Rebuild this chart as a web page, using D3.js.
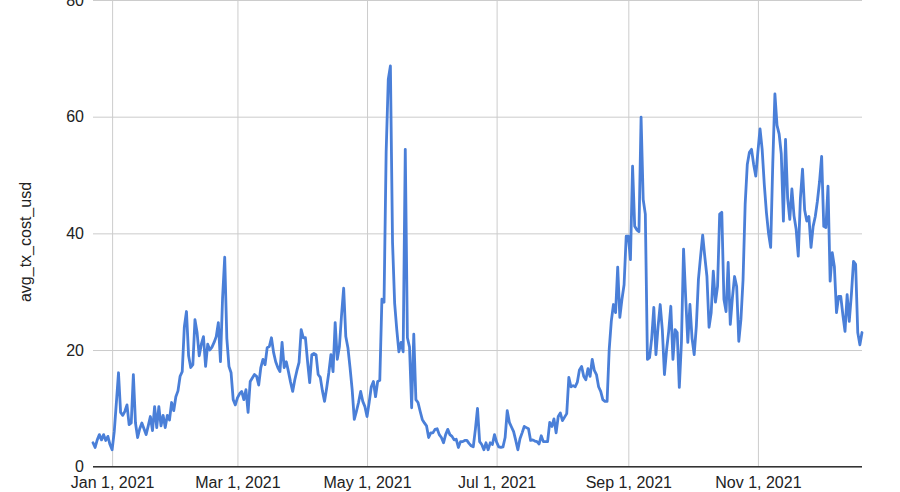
<!DOCTYPE html>
<html>
<head>
<meta charset="utf-8">
<script src="https://cdn.jsdelivr.net/npm/d3@7"></script>
<style>
  html, body { margin: 0; padding: 0; background: #fff; }
  svg { display: block; font-family: "Liberation Sans", Arial, sans-serif; }
</style>
</head>
<body>
<svg id="chart" width="900" height="492"></svg>
<script>
// ---- data: daily avg_tx_cost_usd, Dec 23 2020 .. Dec 20 2021 ----
const startDate = "2020-12-23";
const dec2020 = [4.1, 3.3, 4.6, 5.5, 4.6, 5.5, 4.5, 5.2, 3.8];
const jan = [2.9, 6, 11, 16.1, 9.3, 8.8, 9.5, 10.6, 7.2, 7.5, 15.8, 7.5, 5, 6.5, 7.5, 6.5, 5.5, 7, 8.6, 6.2, 10.3, 6.7, 10.3, 7, 8.8, 6.7, 8.8, 8, 11, 9.6, 12];
const feb = [13, 15.5, 16.3, 24, 26.6, 19, 17, 17.5, 25.2, 23, 19, 21, 22.3, 17.2, 21, 20, 20.5, 21.3, 22.3, 24.7, 18, 29, 35.9, 22, 17.2, 16.1, 11.5, 10.6];
const mar = [11.8, 12.5, 12.9, 11.5, 13.2, 9.3, 14.6, 15.2, 15.8, 15.5, 14, 17, 18.4, 17.5, 20.4, 20.6, 22.1, 19.6, 18, 17, 16.3, 21.3, 17, 18, 16.3, 14.5, 12.9, 14.9, 16.5, 17.9, 23.5];
const apr = [22.1, 22.1, 18, 14.4, 19.2, 19.4, 19.2, 15.8, 15.3, 13, 11.2, 13.5, 16.1, 19.2, 16.3, 24.7, 18.4, 20.6, 26, 30.6, 22.3, 20.4, 17, 13.2, 8.1, 9.5, 11, 12.9, 11.2, 10.3];
const may = [8.6, 11, 13.7, 14.6, 12, 14.6, 14.8, 28.7, 28.2, 54, 66.4, 68.7, 38.5, 28, 23.5, 19.7, 21.3, 19.7, 54.4, 22.1, 20.5, 10.1, 22.7, 11.5, 11, 9.5, 8.1, 7.5, 7, 5, 5.8];
const jun = [5.8, 6.4, 6.5, 5.5, 5, 4.1, 5.5, 6.4, 5.5, 5.2, 4.6, 4.7, 3.3, 4.3, 4.3, 4.5, 4.5, 4, 3.6, 3.4, 6.4, 10, 4.3, 3.8, 2.9, 4.1, 2.9, 4.1, 3.8, 5.5];
const jul = [4.2, 3.4, 3.3, 3.4, 5, 9.6, 7.6, 6.8, 6, 4.5, 2.9, 4.8, 5.8, 6.9, 6.7, 6.5, 4.5, 4.6, 4.4, 4.3, 3.9, 5.3, 4.3, 4.3, 4.3, 7.6, 6.9, 8.2, 5.8, 8.6, 9.2];
const aug = [7.9, 8.5, 9.1, 15.3, 13.7, 13.9, 13.7, 14.5, 16.6, 17.2, 15.5, 14.9, 16.8, 15.5, 18.4, 16.5, 15.8, 13.7, 12.9, 11.5, 11.2, 11.2, 20.1, 25, 27.8, 26.4, 34.2, 25.6, 28.7, 31.2, 39.5];
const sep = [39.5, 35.5, 51.5, 41.2, 40.6, 40.3, 59.9, 45.8, 43.3, 18.4, 18.7, 22, 27.3, 19.2, 24, 27.8, 23.5, 15.8, 20, 23.2, 27.5, 18.4, 23.5, 23, 13.6, 21.3, 37.3, 29, 21.3, 27.8];
const oct = [22, 19.2, 24, 32.1, 36, 39.7, 36, 32.6, 23.9, 26.4, 33.5, 28.2, 30.9, 43.3, 43.6, 28.7, 26.6, 35, 24.4, 29, 32.6, 30.9, 21.5, 25.2, 32, 45, 51.8, 53.9, 54.4, 51.8, 49.8];
const nov = [54, 57.9, 54.4, 48.4, 43.6, 40, 37.6, 52, 63.9, 58.5, 57, 53.6, 42.1, 56.1, 46, 42.4, 47.6, 43, 40.7, 36.1, 46, 51, 44, 42.1, 42.9, 37.6, 41.2, 42.9, 45.5, 48.8];
const dec = [53.2, 41.2, 41, 48.1, 31.8, 36.7, 34.3, 26.4, 29.2, 29.2, 26, 23.2, 29.5, 24.9, 29.5, 35.2, 34.7, 23, 20.9, 23];

const yTicks = [0, 20, 40, 60, 80];
const xTickDates = ["2021-01-01", "2021-03-01", "2021-05-01", "2021-07-01", "2021-09-01", "2021-11-01"];
const xTickLabels = ["Jan 1, 2021", "Mar 1, 2021", "May 1, 2021", "Jul 1, 2021", "Sep 1, 2021", "Nov 1, 2021"];
const yTitle = "avg_tx_cost_usd";

// ---- build ----
const values = [].concat(dec2020, jan, feb, mar, apr, may, jun, jul, aug, sep, oct, nov, dec);
const t0 = new Date(startDate + "T00:00:00Z");
const data = values.map((v, i) => ({ date: d3.utcDay.offset(t0, i), value: v }));

const svg = d3.select("#chart");
const M = { left: 93, right: 862, top: 0, bottom: 466.7 };

const x = d3.scaleUtc()
  .domain([data[0].date, data[data.length - 1].date])
  .range([M.left, M.right]);
const y = d3.scaleLinear().domain([0, 80]).range([M.bottom, M.top]);

svg.append("rect").attr("width", 900).attr("height", 492).attr("fill", "#fff");

// horizontal gridlines + labels
const yAxis = d3.axisLeft(y).tickValues(yTicks).tickSize(-(M.right - M.left)).tickPadding(9).tickFormat(d3.format("d"));
const gy = svg.append("g").attr("transform", `translate(${M.left},0)`).call(yAxis);
gy.select(".domain").remove();
gy.selectAll(".tick line").attr("stroke", "#cccccc").attr("stroke-width", 1);
gy.selectAll(".tick text").attr("fill", "#222").style("font-size", "16px")
  .style("font-family", "'Liberation Sans', Arial, sans-serif");

// vertical gridlines + labels
const xDates = xTickDates.map(s => new Date(s + "T00:00:00Z"));
const xAxis = d3.axisBottom(x).tickValues(xDates).tickSize(-(M.bottom - M.top))
  .tickPadding(0).tickFormat((d, i) => xTickLabels[i]);
const gx = svg.append("g").attr("transform", `translate(0,${M.bottom})`).call(xAxis);
gx.select(".domain").remove();
gx.selectAll(".tick line").attr("stroke", "#cccccc").attr("stroke-width", 1);
gx.selectAll(".tick text").attr("fill", "#222").attr("y", 21).attr("dy", 0)
  .style("font-size", "16px").style("font-family", "'Liberation Sans', Arial, sans-serif");

// baseline
svg.append("line").attr("x1", M.left).attr("x2", M.right)
  .attr("y1", y(0)).attr("y2", y(0)).attr("stroke", "#333").attr("stroke-width", 1.5);

// line
const line = d3.line().x(d => x(d.date)).y(d => y(d.value));
svg.append("path").datum(data)
  .attr("fill", "none").attr("stroke", "#4a7fd8").attr("stroke-width", 2.8)
  .attr("stroke-linejoin", "round").attr("stroke-linecap", "round")
  .attr("d", line);

// y title
svg.append("text")
  .attr("transform", `translate(31,242) rotate(-90)`)
  .attr("text-anchor", "middle").attr("fill", "#222")
  .style("font-size", "16px")
  .text(yTitle);
</script>
</body>
</html>
